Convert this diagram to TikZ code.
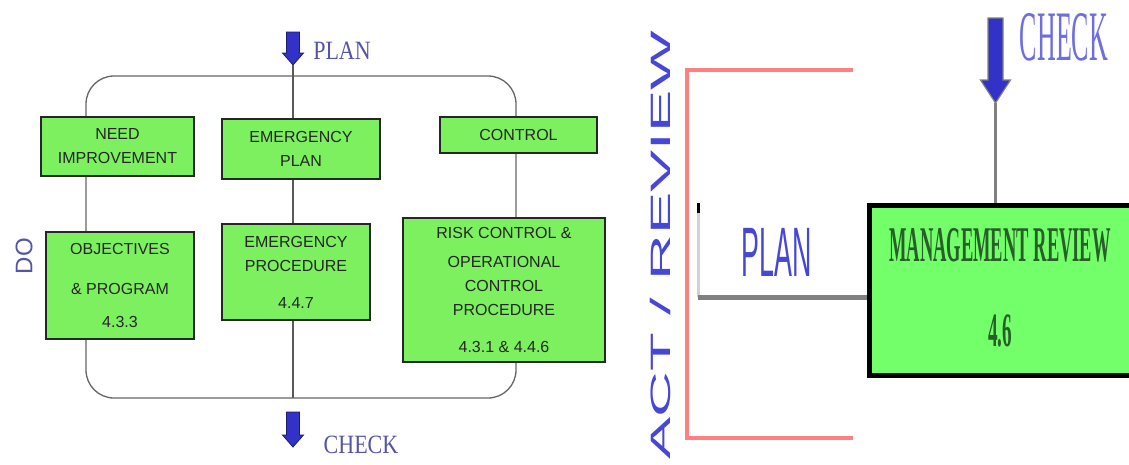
\documentclass[tikz,border=0pt]{standalone}
\usepackage{fontspec}
\setmainfont{Liberation Sans}
\newfontfamily\serifface{Liberation Serif}
\usepackage{graphicx}

\definecolor{boxgreen}{RGB}{125,240,95}
\definecolor{mrgreen}{RGB}{114,255,106}
\definecolor{arrowblue}{RGB}{50,50,200}
\definecolor{labelblue}{RGB}{85,85,165}
\definecolor{brightblue}{RGB}{70,70,215}
\definecolor{checkblue}{RGB}{110,110,225}
\definecolor{salmon}{RGB}{255,128,128}
\definecolor{mrtext}{RGB}{40,95,40}

\begin{document}
\begin{tikzpicture}[x=1pt,y=-1pt,
  every node/.style={inner sep=0pt, outer sep=0pt},
  stepbox/.style={draw=black!85, line width=1.8pt, fill=boxgreen, align=center,
    text=black!85, font=\fontsize{16}{24}\selectfont},
  frame/.style={draw=black!60, line width=1.3pt, rounded corners=28pt},
  midline/.style={draw=black!65, line width=1.2pt},
  blockarrow/.style={fill=arrowblue, draw=arrowblue!55!black, line width=0.8pt},
  seriflabel/.style={text=labelblue, font=\serifface\fontsize{22}{22}\selectfont},
  bracket/.style={draw=salmon, line width=4pt},
  bigarrow/.style={fill=arrowblue, draw=black!50, line width=1.2pt}]

\useasboundingbox (0,0) rectangle (1129,464);
\fill[white] (0,0) rectangle (1129,464);

% ---------- left panel: PLAN -> DO -> CHECK ----------
\node[frame, minimum width=430pt, minimum height=322pt] (loop) at (301,237) {};

\coordinate (planTop) at (293,32);
\coordinate (planTip) at (293,65);
\filldraw[blockarrow, shift={(planTop)}]
  (-6.5,0) -- (6.5,0) -- (6.5,21) -- (10.5,21) -- (0,33) -- (-10.5,21) -- (-6.5,21) -- cycle;
\draw[midline] (planTip) -- (planTip |- loop.south);

\coordinate (checkTop) at (293,412);
\filldraw[blockarrow, shift={(checkTop)}]
  (-6.5,0) -- (6.5,0) -- (6.5,23) -- (10.5,23) -- (0,35) -- (-10.5,23) -- (-6.5,23) -- cycle;

\node[seriflabel] (planL) at (342,51) {\scalebox{1}[1.2]{PLAN}};
\node[seriflabel] (checkL) at (361,445) {\scalebox{1}[1.2]{CHECK}};
\node[rotate=90, text=labelblue, font=\fontsize{24}{24}\selectfont] (doL) at (24,256) {DO};

\node[stepbox, minimum width=153pt, minimum height=59pt] (need) at (117.5,146.5)
  {NEED\\IMPROVEMENT};
\node[stepbox, minimum width=158pt, minimum height=60pt] (eplan) at (301,149)
  {EMERGENCY\\PLAN};
\node[stepbox, minimum width=157pt, minimum height=36pt] (control) at (518.5,135)
  {CONTROL};
\node[stepbox, minimum width=148pt, minimum height=107pt] (obj) at (120,285.5)
  {OBJECTIVES\\[16pt]\& PROGRAM\\[9pt]4.3.3};
\node[stepbox, minimum width=148pt, minimum height=96pt] (eproc) at (296,272)
  {EMERGENCY\\PROCEDURE\\[13pt]4.4.7};
\node[stepbox, minimum width=202pt, minimum height=144pt] (risk) at (504,290)
  {RISK CONTROL \&\\[5pt]OPERATIONAL\\CONTROL\\PROCEDURE\\[13pt]4.3.1 \& 4.4.6};

% ---------- right panel: ACT / REVIEW ----------
\coordinate (bt) at (853,70);
\coordinate (bl1) at (687,70);
\coordinate (bl2) at (687,438);
\coordinate (bb) at (853,438);
\draw[bracket] (bt) -- (bl1) -- (bl2) -- (bb);

\node[rotate=90, text=brightblue, font=\fontsize{28}{28}\selectfont] (act) at (660,245)
  {\scalebox{2.26}[1]{ACT / REVIEW}};

\node[draw=black, line width=5pt, fill=mrgreen, minimum width=320pt, minimum height=170pt,
  anchor=west] (mr) at (869.5,290.5) {};
\node[text=mrtext, font=\serifface\bfseries\fontsize{50}{50}\selectfont] (mrT) at (1000,245.5)
  {\scalebox{0.37}[1]{MANAGEMENT REVIEW}};
\node[text=mrtext, font=\serifface\bfseries\fontsize{48}{48}\selectfont] (mrN) at (1000,331)
  {\scalebox{0.4}[1]{4.6}};

\coordinate (tickTop) at (698,203);
\coordinate (tickEnd) at (698,213);
\coordinate (elbow) at (698,297);
\draw[line width=3pt, draw=black!18] (tickTop) -- (elbow);
\draw[line width=3pt, draw=black] (tickTop) -- (tickEnd);
\draw[line width=5pt, draw=black!50, shorten >=2.5pt] (elbow) -- (elbow -| mr.west);

\node[text=brightblue, font=\fontsize{70}{70}\selectfont] (planR) at (777,252)
  {\scalebox{0.383}[1]{PLAN}};

\coordinate (ckTop) at (995.5,18);
\coordinate (ckTip) at (995.5,103);
\filldraw[bigarrow, shift={(ckTop)}]
  (-7.5,0) -- (7.5,0) -- (7.5,62) -- (15,62) -- (0,85) -- (-15,62) -- (-7.5,62) -- cycle;
\draw[line width=2.5pt, draw=black!50, shorten >=2.5pt] (ckTip) -- (ckTip |- mr.north);

\node[text=checkblue, font=\serifface\fontsize{71}{71}\selectfont] (ckR) at (1064,37)
  {\scalebox{0.366}[1]{CHECK}};
\end{tikzpicture}
\end{document}
